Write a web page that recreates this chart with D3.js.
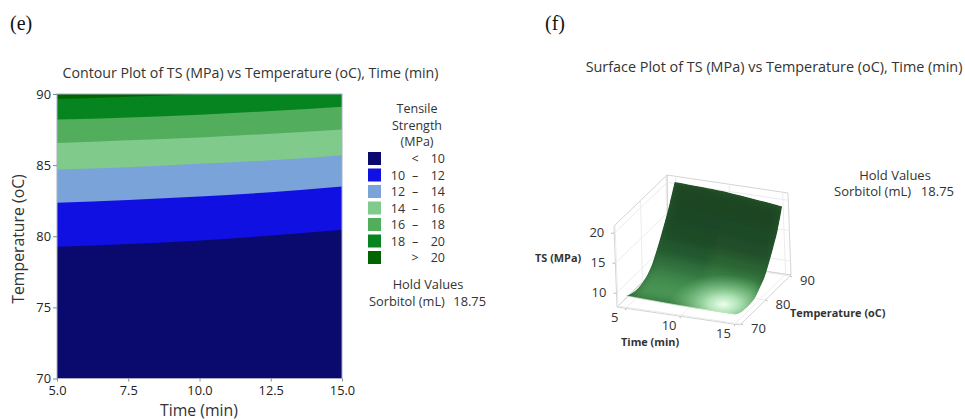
<!DOCTYPE html>
<html>
<head>
<meta charset="utf-8">
<script src="https://d3js.org/d3.v7.min.js"></script>
<style>
body { margin: 0; background: #fff; }
svg { display: block; }
text { font-family: "Open Sans", "Noto Sans", sans-serif; fill: #333; }
.panel { font-family: "Liberation Serif", serif; font-size: 20px; fill: #111; }
</style>
</head>
<body>
<svg id="chart" width="965" height="420"></svg>
<script>
// contour plot (e): temperature of each level line, read at these times
const timeTicks = [5, 7.5, 10, 12.5, 15]
const tempTicks = [70, 75, 80, 85, 90]
const line10 = [79.26, 79.45, 79.7, 80.05, 80.46]
const line12 = [82.35, 82.55, 82.8, 83.1, 83.5]
const line14 = [84.7, 84.85, 85.1, 85.35, 85.7]
const line16 = [86.55, 86.75, 86.95, 87.2, 87.5]
const line18 = [88.2, 88.35, 88.55, 88.8, 89.1]
const line20 = [89.65, 89.8, 90.0, 90.2, 90.45]

const bandColors = ['#0a0a6e', '#1010e2', '#7aa3d9', '#80cb8c', '#52ad5c', '#06841f', '#006400']
const legendLow = ['', '10', '12', '14', '16', '18', '']
const legendSign = ['<', '\u2013', '\u2013', '\u2013', '\u2013', '\u2013', '>']
const legendHigh = ['10', '12', '14', '16', '18', '20', '20']

// surface plot (f): TS read along three times
const surfTimes = [5, 10, 15]
const surfTemps = [70, 72, 74, 76, 78, 80, 82, 84, 86, 88, 90]
const ts5 = [9.6, 9.2, 9.0, 9.1, 9.5, 10.3, 11.8, 13.6, 15.6, 17.8, 20.4]
const ts10 = [9.3, 8.9, 8.7, 8.7, 9.0, 9.6, 11.0, 12.8, 14.8, 17.0, 20.0]
const ts15 = [9.2, 8.7, 8.5, 8.5, 8.7, 9.5, 10.4, 12.0, 13.9, 16.0, 19.0]
const surfRows = [ts5, ts10, ts15]

const svg = d3.select('#chart')

svg.append('text').attr('class', 'panel').attr('x', 10).attr('y', 30).text('(e)')
svg.append('text').attr('class', 'panel').attr('x', 545).attr('y', 30).text('(f)')

/**
 * contour panel
 */
const drawContour = () => {
    const left = 57, right = 342, top = 94, bottom = 378.5
    const x = d3.scaleLinear().domain([5, 15]).range([left, right])
    const y = d3.scaleLinear().domain([70, 90]).range([bottom, top])

    svg.append('text').attr('x', 250.5).attr('y', 78).attr('text-anchor', 'middle')
        .style('font-size', '14.2px').text('Contour Plot of TS (MPa) vs Temperature (oC), Time (min)')

    svg.append('clipPath').attr('id', 'plotClip')
        .append('rect').attr('x', left).attr('y', top).attr('width', right - left).attr('height', bottom - top)

    const g = svg.append('g').attr('clip-path', 'url(#plotClip)')
    g.append('rect').attr('x', left).attr('y', top).attr('width', right - left).attr('height', bottom - top)
        .attr('fill', bandColors[0])

    const area = d3.area()
        .x((d, i) => x(timeTicks[i]))
        .y0(top)
        .y1(d => y(d))
        .curve(d3.curveMonotoneX)

    const lines = [line10, line12, line14, line16, line18, line20]
    lines.forEach((l, i) => {
        g.append('path').datum(l).attr('d', area).attr('fill', bandColors[i + 1])
    })

    svg.append('rect').attr('x', left).attr('y', top).attr('width', right - left).attr('height', bottom - top)
        .attr('fill', 'none').attr('stroke', '#a9adc4').attr('stroke-width', 1)

    const xAxis = svg.append('g').attr('transform', `translate(0,${bottom})`)
        .call(d3.axisBottom(x).tickValues(timeTicks).tickFormat(d3.format('.1f')).tickSize(3).tickPadding(4))
    const yAxis = svg.append('g').attr('transform', `translate(${left},0)`)
        .call(d3.axisLeft(y).tickValues(tempTicks).tickSize(4).tickPadding(2))
    ;[xAxis, yAxis].forEach(a => {
        a.select('.domain').remove()
        a.selectAll('line').attr('stroke', '#888')
        a.selectAll('text').style('font-size', '12.8px').style('fill', '#222')
            .style('font-family', '"Open Sans", sans-serif')
    })

    svg.append('text').attr('x', 199).attr('y', 415.5).attr('text-anchor', 'middle')
        .style('font-size', '15.8px').text('Time (min)')
    svg.append('text').attr('transform', 'translate(24,239) rotate(-90)').attr('text-anchor', 'middle')
        .style('font-size', '15.8px').text('Temperature (oC)')

    // legend
    const title = ['Tensile', 'Strength', '(MPa)']
    title.forEach((t, i) => {
        svg.append('text').attr('x', 417).attr('y', 113 + i * 16.5).attr('text-anchor', 'middle')
            .style('font-size', '12.5px').text(t)
    })
    bandColors.forEach((c, i) => {
        const yy = 158.5 + i * 16.5
        svg.append('rect').attr('x', 368).attr('y', yy - 6.5).attr('width', 13).attr('height', 13).attr('fill', c)
        svg.append('text').attr('x', 398).attr('y', yy + 4.5).attr('text-anchor', 'middle').style('font-size', '12.5px').text(legendLow[i])
        svg.append('text').attr('x', 415).attr('y', yy + 4.5).attr('text-anchor', 'middle').style('font-size', '12.5px').text(legendSign[i])
        svg.append('text').attr('x', 445).attr('y', yy + 4.5).attr('text-anchor', 'end').style('font-size', '12.5px').text(legendHigh[i])
    })
    svg.append('text').attr('x', 428).attr('y', 288.5).attr('text-anchor', 'middle').style('font-size', '12.8px').text('Hold Values')
    svg.append('text').attr('x', 369).attr('y', 305.5).style('font-size', '12.8px').text('Sorbitol (mL)')
    svg.append('text').attr('x', 486).attr('y', 305.5).attr('text-anchor', 'end').style('font-size', '12.8px').text('18.75')
}

/**
 * surface panel, box corners placed by bilinear blend so the slight perspective stays
 */
const drawSurface = () => {
    const tx = d3.scaleLinear().domain([4.2, 15.5]).range([0, 1])
    const ty = d3.scaleLinear().domain([69.6, 90.4]).range([0, 1])
    const tz = d3.scaleLinear().domain([7.7, 21.2]).range([0, 1])

    // floor and top corners of the box: [front-left, front-right, back-right, back-left]
    const floor = [[617, 307], [740, 325], [791, 275], [668, 257]]
    const roof = [[614, 226], [736, 244], [788, 193], [667, 175]]

    const mix = (c, u, v) => {
        const f = (k) => (1 - v) * ((1 - u) * c[0][k] + u * c[1][k]) + v * ((1 - u) * c[3][k] + u * c[2][k])
        return [f(0), f(1)]
    }
    const project = (t, T, s) => {
        const u = tx(t), v = ty(T), w = tz(s)
        const a = mix(floor, u, v), b = mix(roof, u, v)
        return [a[0] + (b[0] - a[0]) * w, a[1] + (b[1] - a[1]) * w]
    }
    const cornerPath = (c) => d3.line()(c) + 'Z'

    svg.append('text').attr('x', 774).attr('y', 72).attr('text-anchor', 'middle')
        .style('font-size', '14.4px').text('Surface Plot of TS (MPa) vs Temperature (oC), Time (min)')

    // box walls and grid
    const walls = svg.append('g').attr('fill', 'none').attr('stroke', '#d4d4d4').attr('stroke-width', 1)
    walls.append('path').attr('d', cornerPath([floor[0], roof[0], roof[3], floor[3]]))
    walls.append('path').attr('d', cornerPath([floor[3], roof[3], roof[2], floor[2]]))
    walls.append('path').attr('d', cornerPath(floor))
    const gridLine = (a, b) => walls.append('line').attr('x1', a[0]).attr('y1', a[1]).attr('x2', b[0]).attr('y2', b[1]).attr('stroke', '#ececec')
    ;[10, 15, 20].forEach(s => {
        gridLine(project(4.2, 69.6, s), project(4.2, 90.4, s))
        gridLine(project(4.2, 90.4, s), project(15.5, 90.4, s))
    })
    ;[5, 10, 15].forEach(t => {
        gridLine(project(t, 69.6, 7.7), project(t, 90.4, 7.7))
        gridLine(project(t, 90.4, 7.7), project(t, 90.4, 21.2))
    })
    ;[70, 80, 90].forEach(T => {
        gridLine(project(15.5, T, 7.7), project(4.2, T, 7.7))
        gridLine(project(4.2, T, 7.7), project(4.2, T, 21.2))
    })

    // outline through the edge rows of the table
    const edgeFront = surfTimes.map((t, i) => project(t, surfTemps[0], surfRows[i][0]))
    const edgeRight = surfTemps.map((T, j) => project(15, T, ts15[j]))
    const edgeBack = surfTimes.slice().reverse().map((t, i) => project(t, 90, surfRows[2 - i][10]))
    const edgeLeft = surfTemps.slice().reverse().map((T, j) => project(5, T, ts5[10 - j]))
    const smooth = d3.line().curve(d3.curveCatmullRom)
    const outline = smooth(edgeFront) + smooth(edgeRight).replace('M', 'L') + smooth(edgeBack).replace('M', 'L') + smooth(edgeLeft).replace('M', 'L') + 'Z'

    const defs = svg.append('defs')
    defs.append('clipPath').attr('id', 'surfClip').append('path').attr('d', outline)
    const blur = defs.append('filter').attr('id', 'soft').attr('x', '-20%').attr('y', '-20%').attr('width', '140%').attr('height', '140%')
    blur.append('feGaussianBlur').attr('stdDeviation', 5)
    const glow = defs.append('radialGradient').attr('id', 'glow')
    glow.append('stop').attr('offset', '0%').attr('stop-color', '#eefff0').attr('stop-opacity', 1)
    glow.append('stop').attr('offset', '28%').attr('stop-color', '#c4f2c8').attr('stop-opacity', 0.85)
    glow.append('stop').attr('offset', '100%').attr('stop-color', '#7cc585').attr('stop-opacity', 0)

    const shade = d3.scaleLinear()
        .domain([8.5, 9.5, 11, 13, 16, 20.5])
        .range(['#4f9c5a', '#3f8a4c', '#2c6a37', '#204f29', '#1c4725', '#1a4223'])

    const surf = svg.append('g').attr('clip-path', 'url(#surfClip)')
    surf.append('path').attr('d', outline).attr('fill', '#2a5f30')
    const cells = surf.append('g').attr('filter', 'url(#soft)')
    for (let i = 0; i < surfTimes.length - 1; i++) {
        for (let j = 0; j < surfTemps.length - 1; j++) {
            const quad = [
                project(surfTimes[i], surfTemps[j], surfRows[i][j]),
                project(surfTimes[i + 1], surfTemps[j], surfRows[i + 1][j]),
                project(surfTimes[i + 1], surfTemps[j + 1], surfRows[i + 1][j + 1]),
                project(surfTimes[i], surfTemps[j + 1], surfRows[i][j + 1])
            ]
            const mean = (surfRows[i][j] + surfRows[i + 1][j] + surfRows[i + 1][j + 1] + surfRows[i][j + 1]) / 4
            cells.append('path').attr('d', cornerPath(quad)).attr('fill', shade(mean)).attr('stroke', shade(mean))
        }
    }
    const hot = project(13, 74, 8.7)
    surf.append('ellipse').attr('cx', hot[0]).attr('cy', hot[1]).attr('rx', 54).attr('ry', 30).attr('fill', 'url(#glow)')
    svg.append('path').attr('d', smooth(edgeFront)).attr('fill', 'none').attr('stroke', '#c9eccd').attr('stroke-width', 0.8)

    // axis ticks and labels
    const tick = (p, dx, dy, label, lx, ly, anchor) => {
        svg.append('line').attr('x1', p[0]).attr('y1', p[1]).attr('x2', p[0] + dx).attr('y2', p[1] + dy).attr('stroke', '#bbb')
        svg.append('text').attr('x', p[0] + lx).attr('y', p[1] + ly).attr('text-anchor', anchor)
            .style('font-size', '13px').text(label)
    }
    ;[5, 10, 15].forEach(t => tick(project(t, 69.6, 7.7), 0, 2, t, -11, 14, 'middle'))
    ;[70, 80, 90].forEach(T => tick(project(15.5, T, 7.7), 2, 1, T, 10, 9, 'start'))
    ;[10, 15, 20].forEach(s => tick(project(4.2, 69.6, s), -3, 0, s, -10, 4, 'end'))

    const bold = (txt, xx, yy) => svg.append('text').attr('x', xx).attr('y', yy).style('font-size', '10.9px').style('font-weight', 700).text(txt)
    bold('TS (MPa)', 535, 262)
    bold('Time (min)', 621, 346)
    bold('Temperature (oC)', 790, 317)

    svg.append('text').attr('x', 895).attr('y', 180).attr('text-anchor', 'middle').style('font-size', '13px').text('Hold Values')
    svg.append('text').attr('x', 834).attr('y', 196).style('font-size', '13px').text('Sorbitol (mL)')
    svg.append('text').attr('x', 954).attr('y', 196).attr('text-anchor', 'end').style('font-size', '13px').text('18.75')
}

drawContour()
drawSurface()
</script>
</body>
</html>
